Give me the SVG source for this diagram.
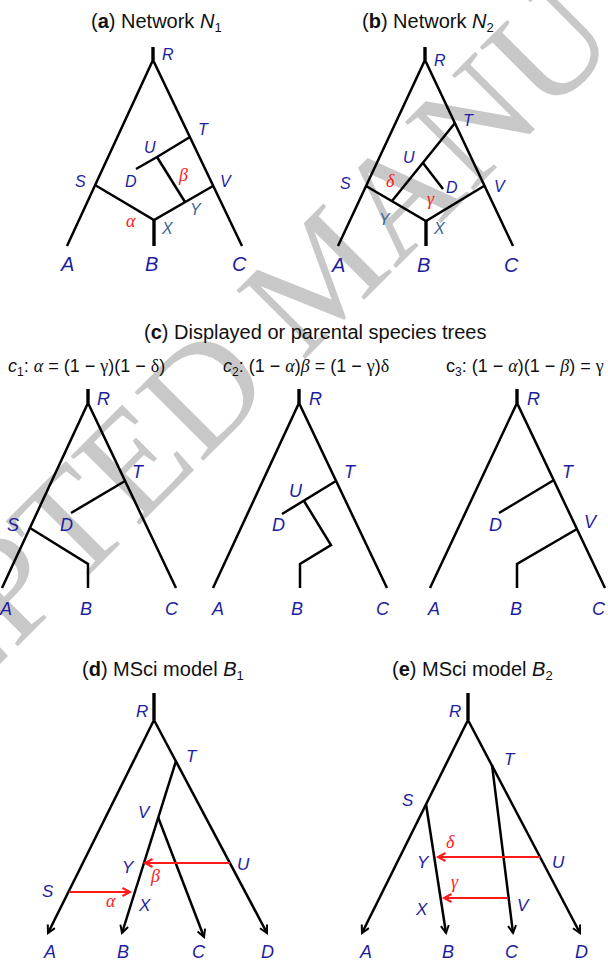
<svg xmlns="http://www.w3.org/2000/svg" width="608" height="962" viewBox="0 0 608 962">
<style>
  .ln{fill:none;stroke:#000;stroke-width:2.5;stroke-linejoin:miter;stroke-linecap:butt}
  .stub{fill:none;stroke:#000;stroke-width:3.4}
  .red{fill:none;stroke:#ff1a1a;stroke-width:2}
  .ttl{font-family:"Liberation Sans",Arial,sans-serif;font-size:20px;fill:#111}
  .eq{font-family:"Liberation Sans",Arial,sans-serif;font-size:18px;fill:#111}
  .gk{font-family:"Liberation Serif","Times New Roman",serif}
  .lb{font-family:"Liberation Sans",Arial,sans-serif;font-style:italic;font-size:16px;fill:#1e1ea0}
  .lf{font-size:20px}
  .lc{font-size:18px}
  .ld{font-size:17px}
  .le{font-size:18px}
  .st{fill:#3c6496}
  .rg{font-family:"Liberation Serif","Times New Roman",serif;font-style:italic;font-size:18px;fill:#ff1a1a}
  .wm{font-family:"Liberation Serif","Times New Roman",serif;font-size:148px;fill:#c8c8c8}
</style>
<defs>
  <marker id="ab" markerWidth="12" markerHeight="12" refX="9" refY="5" orient="auto" markerUnits="userSpaceOnUse">
    <path d="M1.5,1 L9,5 L1.5,9" fill="none" stroke="#000" stroke-width="2"/>
  </marker>
  <marker id="ar" markerWidth="12" markerHeight="12" refX="9" refY="5" orient="auto" markerUnits="userSpaceOnUse">
    <path d="M1.5,1 L9,5 L1.5,9" fill="none" stroke="#ff1a1a" stroke-width="2"/>
  </marker>
</defs>
<rect width="608" height="962" fill="#fff"/>

<g id="watermark">
  <text class="wm" transform="translate(-265,929) rotate(-45)">ACCEPTED MANUSCRIPT</text>
</g>

<g id="titles">
  <text class="ttl" x="91" y="27.5">(<tspan font-weight="bold">a</tspan>) Network <tspan font-style="italic">N</tspan><tspan font-size="13" dy="4">1</tspan></text>
  <text class="ttl" x="362" y="27.5">(<tspan font-weight="bold">b</tspan>) Network <tspan font-style="italic">N</tspan><tspan font-size="13" dy="4">2</tspan></text>
  <text class="ttl" x="144" y="339">(<tspan font-weight="bold">c</tspan>) Displayed or parental species trees</text>
  <text class="eq" x="8" y="372"><tspan font-style="italic">c</tspan><tspan font-size="12" dy="4">1</tspan><tspan dy="-4">: </tspan><tspan class="gk" font-style="italic">α</tspan> = (1 − <tspan class="gk">γ</tspan>)(1 − <tspan class="gk">δ</tspan>)</text>
  <text class="eq" x="223" y="372"><tspan font-style="italic">c</tspan><tspan font-size="12" dy="4">2</tspan><tspan dy="-4">: (1 − </tspan><tspan class="gk" font-style="italic">α</tspan>)<tspan class="gk" font-style="italic">β</tspan> = (1 − <tspan class="gk">γ</tspan>)<tspan class="gk">δ</tspan></text>
  <text class="eq" x="446" y="372">c<tspan font-size="12" dy="4">3</tspan><tspan dy="-4">: (1 − </tspan><tspan class="gk" font-style="italic">α</tspan>)(1 − <tspan class="gk" font-style="italic">β</tspan>) = <tspan class="gk">γ</tspan></text>
  <text class="ttl" x="82" y="676">(<tspan font-weight="bold">d</tspan>) MSci model <tspan font-style="italic">B</tspan><tspan font-size="13" dy="4">1</tspan></text>
  <text class="ttl" x="392" y="676">(<tspan font-weight="bold">e</tspan>) MSci model <tspan font-style="italic">B</tspan><tspan font-size="13" dy="4">2</tspan></text>
</g>

<g id="connectors">
  <!-- (a) -->
  <path class="stub" d="M153,47 V60"/>
  <path class="ln" d="M67,246 L153,60 L242,246"/>
  <path class="ln" d="M95,185 L154,220 L213,186"/>
  <path class="stub" d="M154,220 V246"/>
  <path class="ln" d="M190,137 L157,157 L136,169"/>
  <path class="ln" d="M157,157 L185,202"/>
  <!-- (b) -->
  <path class="stub" d="M425,47 V60"/>
  <path class="ln" d="M338,246 L425,60 L513,246"/>
  <path class="ln" d="M366,186 L426,221 L484,186"/>
  <path class="stub" d="M426,221 V246"/>
  <path class="ln" d="M455,123 L392,201"/>
  <path class="ln" d="M423,163 L443,189"/>
  <!-- (c1) -->
  <path class="stub" d="M88,389 V403"/>
  <path class="ln" d="M2,588 L88,403 L176,588"/>
  <path class="ln" d="M125,481 L71,513"/>
  <path class="ln" d="M30,528 L88,564 V588"/>
  <!-- (c2) -->
  <path class="stub" d="M299,389 V403"/>
  <path class="ln" d="M213,588 L299,403 L387,588"/>
  <path class="ln" d="M336,481 L282,514"/>
  <path class="ln" d="M304,501 L331,545 L300,564 V588"/>
  <!-- (c3) -->
  <path class="stub" d="M517,389 V403"/>
  <path class="ln" d="M430,588 L517,403 L605,588"/>
  <path class="ln" d="M554,480 L499,513"/>
  <path class="ln" d="M577,529 L517,564 V588"/>
  <!-- (d) -->
  <path class="stub" d="M154,693 V720"/>
  <path class="ln" d="M154,720 L48,933" marker-end="url(#ab)"/>
  <path class="ln" d="M154,720 L267,933" marker-end="url(#ab)"/>
  <path class="ln" d="M176,761 L122,933" marker-end="url(#ab)"/>
  <path class="ln" d="M158,817 L204,937" marker-end="url(#ab)"/>
  <path class="red" d="M69,892 H130" marker-end="url(#ar)"/>
  <path class="red" d="M230,863 H145" marker-end="url(#ar)"/>
  <!-- (e) -->
  <path class="stub" d="M468,693 V720"/>
  <path class="ln" d="M468,720 L362,933" marker-end="url(#ab)"/>
  <path class="ln" d="M468,720 L580,933" marker-end="url(#ab)"/>
  <path class="ln" d="M492,765 L513,933" marker-end="url(#ab)"/>
  <path class="ln" d="M426,804 L446,933" marker-end="url(#ab)"/>
  <path class="red" d="M540,857 H438" marker-end="url(#ar)"/>
  <path class="red" d="M508,898 H444" marker-end="url(#ar)"/>
</g>

<g id="netA">
  <text class="lb" x="162" y="60">R</text>
  <text class="lb" x="198" y="135">T</text>
  <text class="lb" x="144" y="153">U</text>
  <text class="lb" x="125" y="187">D</text>
  <text class="rg" x="179" y="181">β</text>
  <text class="lb" x="220" y="187">V</text>
  <text class="lb" x="75" y="187">S</text>
  <text class="lb st" x="190" y="215">Y</text>
  <text class="rg" x="126" y="227">α</text>
  <text class="lb st" x="162" y="234">X</text>
  <text class="lb lf" x="61" y="271">A</text>
  <text class="lb lf" x="145" y="271">B</text>
  <text class="lb lf" x="232" y="271">C</text>
</g>
<g id="netB">
  <text class="lb" x="434" y="66">R</text>
  <text class="lb" x="463" y="126">T</text>
  <text class="lb" x="403" y="163">U</text>
  <text class="rg" x="386" y="187">δ</text>
  <text class="lb" x="446" y="193">D</text>
  <text class="lb" x="494" y="192">V</text>
  <text class="lb" x="340" y="189">S</text>
  <text class="rg" x="427" y="205">γ</text>
  <text class="lb st" x="379" y="225">Y</text>
  <text class="lb st" x="434" y="234">X</text>
  <text class="lb lf" x="332" y="272">A</text>
  <text class="lb lf" x="417" y="272">B</text>
  <text class="lb lf" x="504" y="272">C</text>
</g>
<g id="treeC1">
  <text class="lb lc" x="97" y="405">R</text>
  <text class="lb lc" x="132" y="478">T</text>
  <text class="lb lc" x="60" y="531">D</text>
  <text class="lb lc" x="7" y="531">S</text>
  <text class="lb lc" x="0" y="615">A</text>
  <text class="lb lc" x="80" y="615">B</text>
  <text class="lb lc" x="165" y="615">C</text>
</g>
<g id="treeC2">
  <text class="lb lc" x="309" y="405">R</text>
  <text class="lb lc" x="344" y="478">T</text>
  <text class="lb lc" x="289" y="497">U</text>
  <text class="lb lc" x="272" y="531">D</text>
  <text class="lb lc" x="212" y="615">A</text>
  <text class="lb lc" x="291" y="615">B</text>
  <text class="lb lc" x="376" y="615">C</text>
</g>
<g id="treeC3">
  <text class="lb lc" x="527" y="405">R</text>
  <text class="lb lc" x="562" y="478">T</text>
  <text class="lb lc" x="489" y="531">D</text>
  <text class="lb lc" x="584" y="528">V</text>
  <text class="lb lc" x="428" y="615">A</text>
  <text class="lb lc" x="510" y="615">B</text>
  <text class="lb lc" x="592" y="615">C</text>
</g>
<g id="modelB1">
  <text class="lb ld" x="136" y="717">R</text>
  <text class="lb ld" x="186" y="762">T</text>
  <text class="lb ld" x="138" y="818">V</text>
  <text class="lb ld" x="122" y="873">Y</text>
  <text class="rg" x="151" y="882">β</text>
  <text class="lb ld" x="237" y="870">U</text>
  <text class="lb ld" x="42" y="897">S</text>
  <text class="rg" x="106" y="907">α</text>
  <text class="lb ld" x="139" y="911">X</text>
  <text class="lb le" x="44" y="958">A</text>
  <text class="lb le" x="117" y="958">B</text>
  <text class="lb le" x="192" y="958">C</text>
  <text class="lb le" x="261" y="958">D</text>
</g>
<g id="modelB2">
  <text class="lb ld" x="449" y="717">R</text>
  <text class="lb ld" x="504" y="765">T</text>
  <text class="lb ld" x="402" y="806">S</text>
  <text class="rg" x="446" y="848">δ</text>
  <text class="lb ld" x="417" y="868">Y</text>
  <text class="lb ld" x="552" y="868">U</text>
  <text class="rg" x="451" y="888">γ</text>
  <text class="lb ld" x="416" y="915">X</text>
  <text class="lb ld" x="517" y="911">V</text>
  <text class="lb le" x="360" y="958">A</text>
  <text class="lb le" x="442" y="958">B</text>
  <text class="lb le" x="505" y="958">C</text>
  <text class="lb le" x="575" y="958">D</text>
</g>
</svg>
